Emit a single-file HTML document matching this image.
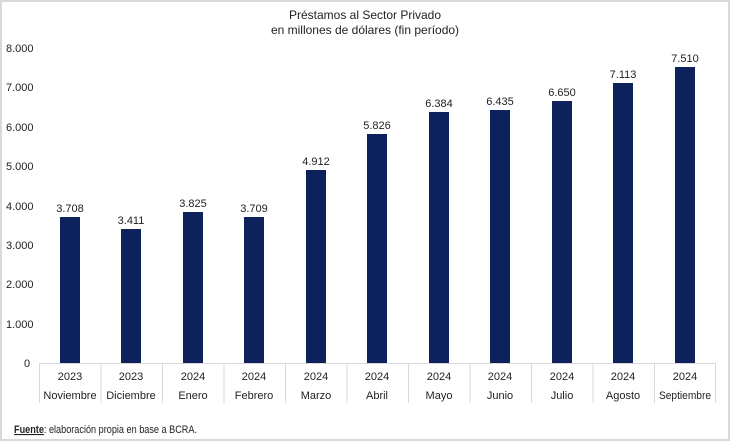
<!DOCTYPE html>
<html><head><meta charset="utf-8"><style>
html,body{margin:0;padding:0;background:#fff}
svg{display:block}
text{font-family:"Liberation Sans",sans-serif;fill:#222}
</style></head><body>
<svg width="730" height="441" viewBox="0 0 730 441">
<rect x="1" y="1" width="728" height="439" fill="#fff" stroke="#d9d9d9" stroke-width="2"/>
<text x="365" y="19" font-size="12" text-anchor="middle">Préstamos al Sector Privado</text>
<text x="365" y="34" font-size="12" text-anchor="middle">en millones de dólares (fin período)</text>
<g font-size="11" text-anchor="start">
<text x="6" y="52">8.000</text>
<text x="6" y="91">7.000</text>
<text x="6" y="131">6.000</text>
<text x="6" y="170">5.000</text>
<text x="6" y="210">4.000</text>
<text x="6" y="249">3.000</text>
<text x="6" y="288">2.000</text>
<text x="6" y="328">1.000</text>
<text x="24" y="367">0</text>
</g>
<g stroke="#d9d9d9" stroke-width="1">
<line x1="39" y1="363.5" x2="716" y2="363.5"/>
<line x1="39.5" y1="363" x2="39.5" y2="403"/><line x1="101" y1="363" x2="101" y2="403"/><line x1="162.5" y1="363" x2="162.5" y2="403"/><line x1="224" y1="363" x2="224" y2="403"/><line x1="285.5" y1="363" x2="285.5" y2="403"/><line x1="347" y1="363" x2="347" y2="403"/><line x1="408.5" y1="363" x2="408.5" y2="403"/><line x1="470" y1="363" x2="470" y2="403"/><line x1="531.5" y1="363" x2="531.5" y2="403"/><line x1="593" y1="363" x2="593" y2="403"/><line x1="654.5" y1="363" x2="654.5" y2="403"/><line x1="715.5" y1="363" x2="715.5" y2="403"/>
</g>
<g fill="#0d215c">
<rect x="60" y="217" width="20" height="146"/>
<rect x="121" y="229" width="20" height="134"/>
<rect x="183" y="212" width="20" height="151"/>
<rect x="244" y="217" width="20" height="146"/>
<rect x="306" y="170" width="20" height="193"/>
<rect x="367" y="134" width="20" height="229"/>
<rect x="429" y="112" width="20" height="251"/>
<rect x="490" y="110" width="20" height="253"/>
<rect x="552" y="101" width="20" height="262"/>
<rect x="613" y="83" width="20" height="280"/>
<rect x="675" y="67" width="20" height="296"/>
</g>
<g font-size="11" text-anchor="middle">
<text x="70" y="212">3.708</text><text x="131" y="224">3.411</text><text x="193" y="207">3.825</text><text x="254" y="212">3.709</text><text x="316" y="165">4.912</text><text x="377" y="129">5.826</text><text x="439" y="107">6.384</text><text x="500" y="105">6.435</text><text x="562" y="96">6.650</text><text x="623" y="78">7.113</text><text x="685" y="62">7.510</text>
</g>
<g font-size="11" text-anchor="middle">
<text x="70" y="380">2023</text><text x="131" y="380">2023</text><text x="193" y="380">2024</text><text x="254" y="380">2024</text><text x="316" y="380">2024</text><text x="377" y="380">2024</text><text x="439" y="380">2024</text><text x="500" y="380">2024</text><text x="562" y="380">2024</text><text x="623" y="380">2024</text><text x="685" y="380">2024</text>
<text x="70" y="399">Noviembre</text><text x="131" y="399">Diciembre</text><text x="193" y="399">Enero</text><text x="254" y="399">Febrero</text><text x="316" y="399">Marzo</text><text x="377" y="399">Abril</text><text x="439" y="399">Mayo</text><text x="500" y="399">Junio</text><text x="562" y="399">Julio</text><text x="623" y="399">Agosto</text><text x="685" y="399" textLength="52" lengthAdjust="spacingAndGlyphs">Septiembre</text>
</g>
<text x="14" y="433" font-size="11" textLength="183" lengthAdjust="spacingAndGlyphs"><tspan font-weight="bold" text-decoration="underline">Fuente</tspan>: elaboración propia en base a BCRA.</text>
</svg>
</body></html>
